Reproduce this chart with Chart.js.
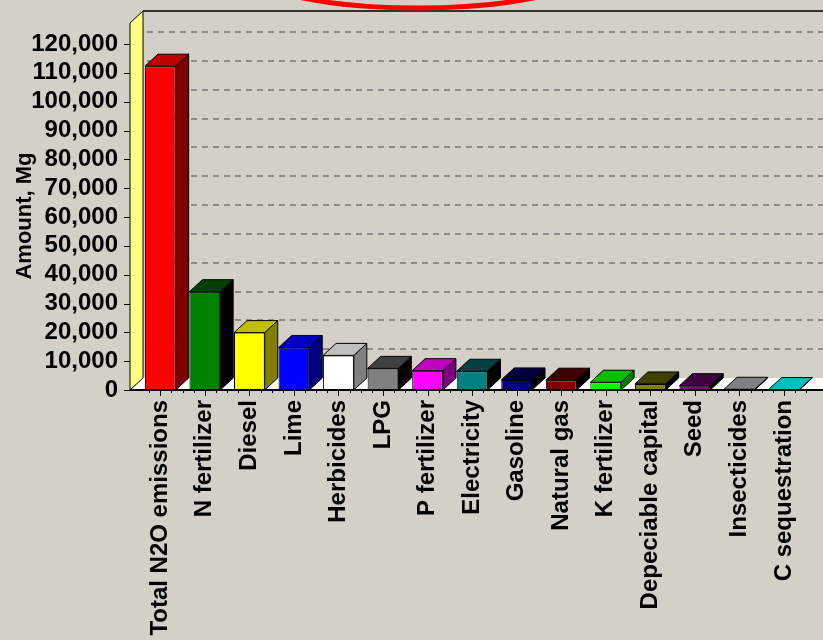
<!DOCTYPE html>
<html>
<head>
<meta charset="utf-8">
<script src="https://cdn.jsdelivr.net/npm/chart.js@4.4.1/dist/chart.umd.min.js"></script>
<style>
  html, body { margin: 0; padding: 0; background: #d4d0c8; }
  #wrap { width: 823px; height: 640px; }
</style>
</head>
<body>
<div id="wrap"><canvas id="chart"></canvas></div>
<script>
// data
const categories = ['Total N2O emissions', 'N fertilizer', 'Diesel', 'Lime', 'Herbicides', 'LPG', 'P fertilizer',
  'Electricity', 'Gasoline', 'Natural gas', 'K fertilizer', 'Depeciable capital', 'Seed', 'Insecticides', 'C sequestration'];
const amounts = [112300, 34100, 19900, 14700, 12000, 7500, 6700, 6500, 3500, 3400, 2700, 2100, 1500, 250, 150];
const barColors = ['#ff0000', '#008000', '#ffff00', '#0000ff', '#ffffff', '#808080', '#ff00ff',
  '#008080', '#000080', '#800000', '#00ff00', '#808000', '#800080', '#c0c0c0', '#00ffff'];
const yTicks = [0, 10000, 20000, 30000, 40000, 50000, 60000, 70000, 80000, 90000, 100000, 110000, 120000];
const yTitle = 'Amount, Mg';

const DX = 13, DY = 12;     // depth of the 3d boxes
const WALL_GAP = 8;         // left wall sits a bit left of the category axis
const FONT = '"Liberation Sans", Arial, sans-serif';

function shade(hex, amt) {
  const n = parseInt(hex.slice(1), 16);
  const r = Math.max(0, (n >> 16) - amt);
  const g = Math.max(0, ((n >> 8) & 255) - amt);
  const b = Math.max(0, (n & 255) - amt);
  return `rgb(${r},${g},${b})`;
}

function poly(ctx, pts, fill) {
  ctx.beginPath();
  ctx.moveTo(pts[0][0], pts[0][1]);
  for (let i = 1; i < pts.length; i++) ctx.lineTo(pts[i][0], pts[i][1]);
  ctx.closePath();
  if (fill) { ctx.fillStyle = fill; ctx.fill(); }
  ctx.stroke();
}

const box3d = {
  id: 'box3d',
  beforeDatasetsDraw(chart) {
    const { ctx, chartArea: a, scales: { y } } = chart;
    const W = chart.width;
    const x0 = a.left - WALL_GAP;
    const base = y.getPixelForValue(0);
    const top = a.top - 21;
    ctx.save();

    // dashed grid on the back wall
    ctx.setLineDash([6, 5]);
    ctx.strokeStyle = '#8c8c8c';
    ctx.lineWidth = 2;
    yTicks.forEach(v => {
      if (v === 0) return;
      const py = Math.round(y.getPixelForValue(v) - DY);
      ctx.beginPath(); ctx.moveTo(x0 + DX + 4, py); ctx.lineTo(W, py); ctx.stroke();
    });
    ctx.setLineDash([]);

    // top edge of back wall
    ctx.strokeStyle = '#000';
    ctx.lineWidth = 1.5;
    ctx.beginPath(); ctx.moveTo(x0 + DX, top - DY); ctx.lineTo(W, top - DY); ctx.stroke();

    // floor
    ctx.lineWidth = 1;
    ctx.fillStyle = '#ffffff';
    ctx.beginPath();
    ctx.moveTo(x0, base); ctx.lineTo(W, base); ctx.lineTo(W, base - DY); ctx.lineTo(x0 + DX, base - DY);
    ctx.closePath(); ctx.fill();

    // left wall
    poly(ctx, [[x0, base], [x0, top], [x0 + DX, top - DY], [x0 + DX, base - DY]], '#ffff80');
    ctx.restore();
  },
  afterDatasetsDraw(chart) {
    const { ctx, chartArea: a, scales: { x, y } } = chart;
    const W = chart.width;
    const x0 = a.left - WALL_GAP;
    const base = y.getPixelForValue(0);
    ctx.save();
    ctx.strokeStyle = '#000';
    ctx.lineWidth = 1;
    chart.getDatasetMeta(0).data.forEach((bar, i) => {
      const l = bar.x - bar.width / 2, r = bar.x + bar.width / 2;
      const t = bar.y, b = bar.base;
      poly(ctx, [[r, b], [r, t], [r + DX, t - DY], [r + DX, b - DY]], shade(barColors[i], 128));
      poly(ctx, [[l, t], [l + DX, t - DY], [r + DX, t - DY], [r, t]], shade(barColors[i], 64));
    });

    // axis line and ticks
    ctx.lineWidth = 2;
    ctx.beginPath(); ctx.moveTo(x0, base); ctx.lineTo(W, base); ctx.stroke();
    ctx.lineWidth = 1;
    const step = x.getPixelForValue(1) - x.getPixelForValue(0);
    for (let i = 0; i < categories.length; i++) {
      const cx = x.getPixelForValue(i);
      for (let k = -1; k <= 2; k++) {
        const px = Math.round(cx + k * step / 4) + 0.5;
        ctx.beginPath(); ctx.moveTo(px, base); ctx.lineTo(px, base + (k === 0 ? 6 : 3)); ctx.stroke();
      }
    }
    yTicks.forEach(v => {
      const py = Math.round(y.getPixelForValue(v)) + 0.5;
      ctx.beginPath(); ctx.moveTo(x0 - 6, py); ctx.lineTo(x0, py); ctx.stroke();
    });
    ctx.restore();
  },
  afterDraw(chart) {
    const { ctx } = chart;
    ctx.save();
    // axis title
    ctx.translate(25, 216);
    ctx.rotate(-Math.PI / 2);
    ctx.font = 'bold 22px ' + FONT;
    ctx.fillStyle = '#000';
    ctx.textAlign = 'center';
    ctx.textBaseline = 'middle';
    ctx.fillText(yTitle, 0, 0);
    ctx.restore();

    // red marker ellipse at the top
    ctx.save();
    ctx.strokeStyle = '#ff0000';
    ctx.lineWidth = 5;
    ctx.beginPath();
    ctx.ellipse(418, -25, 160, 33, 0, 0, Math.PI * 2);
    ctx.stroke();
    ctx.restore();
  }
};

new Chart(document.getElementById('chart'), {
  type: 'bar',
  data: {
    labels: categories,
    datasets: [{
      data: amounts,
      backgroundColor: barColors,
      borderColor: '#000',
      borderWidth: 1,
      barPercentage: 0.69,
      categoryPercentage: 1
    }]
  },
  options: {
    responsive: true,
    maintainAspectRatio: false,
    animation: false,
    layout: { padding: { top: 44, right: 8.5, left: 0, bottom: 0 } },
    plugins: { legend: { display: false }, tooltip: { enabled: false } },
    scales: {
      x: {
        grid: { display: false, drawTicks: false },
        border: { display: false },
        ticks: {
          autoSkip: false, minRotation: 90, maxRotation: 90, padding: 10, color: '#000',
          font: { family: FONT, size: 24, weight: 'bold' }
        },
        afterFit: s => { s.height = 250; }
      },
      y: {
        min: 0,
        max: 120000,
        afterBuildTicks: s => { s.ticks = yTicks.map(v => ({ value: v })); },
        grid: { display: false, drawTicks: false },
        border: { display: false },
        ticks: {
          autoSkip: false, padding: 20, color: '#000',
          font: { family: FONT, size: 24, weight: 'bold' },
          callback: v => v.toLocaleString('en-US')
        },
        afterFit: s => { s.width = 138; }
      }
    }
  },
  plugins: [box3d]
});
</script>
</body>
</html>
